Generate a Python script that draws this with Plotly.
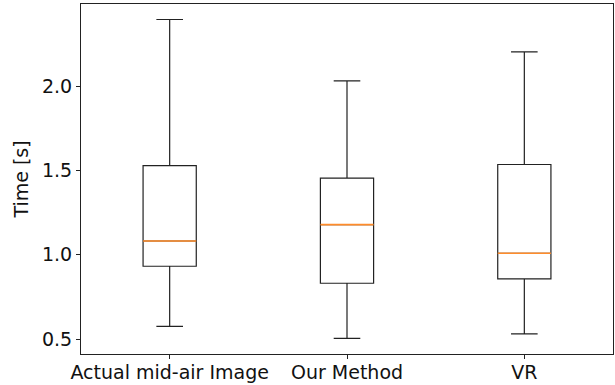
import plotly.graph_objects as go

categories = ["Actual mid-air Image", "Our Method", "VR"]
positions = [1, 2, 3]
lower_whisker = [0.575, 0.504, 0.530]
q1_vals = [0.932, 0.831, 0.857]
medians = [1.082, 1.179, 1.009]
q3_vals = [1.530, 1.455, 1.536]
upper_whisker = [2.397, 2.033, 2.205]
y_ticks = [0.5, 1.0, 1.5, 2.0]

fig = go.Figure()
for i, cat in enumerate(categories):
    fig.add_trace(go.Box(
        x=[positions[i]], q1=[q1_vals[i]], median=[medians[i]], q3=[q3_vals[i]],
        lowerfence=[lower_whisker[i]], upperfence=[upper_whisker[i]],
        width=0.3, whiskerwidth=0.5, fillcolor="rgba(0,0,0,0)",
        line=dict(color="#222222", width=1.2), boxpoints=False,
        name=cat, showlegend=False, hoverinfo="skip"))
    fig.add_trace(go.Box(
        x=[positions[i]], q1=[medians[i]], median=[medians[i]], q3=[medians[i]],
        lowerfence=[medians[i]], upperfence=[medians[i]],
        width=0.3, whiskerwidth=0, fillcolor="rgba(0,0,0,0)",
        line=dict(color="#ff8c2a", width=1.6), boxpoints=False,
        name=cat + " median", showlegend=False, hoverinfo="skip"))

font = dict(family="DejaVu Sans", size=19, color="#111111")
fig.update_layout(
    width=615, height=385,
    margin=dict(l=81, r=2, t=4, b=31, autoexpand=False),
    paper_bgcolor="white", plot_bgcolor="white",
    font=font,
    xaxis=dict(range=[0.5, 3.5], tickvals=positions, ticktext=categories,
               showgrid=False, zeroline=False, showline=True, mirror=True,
               linecolor="#222222", linewidth=1.2, ticks="outside", ticklen=4,
               tickcolor="#222222", tickfont=font, automargin=False,
               ticklabelstandoff=-3),
    yaxis=dict(range=[0.411, 2.489], tickvals=y_ticks, tickformat=".1f",
               showgrid=False, zeroline=False, showline=True, mirror=True,
               linecolor="#222222", linewidth=1.2, ticks="outside", ticklen=4,
               tickcolor="#222222", tickfont=font, automargin=False,
               title=dict(text="Time [s]", font=font, standoff=8)),
)
fig.write_html("out.html", config={"displayModeBar": False},
               post_script="document.body.style.margin='0';")
